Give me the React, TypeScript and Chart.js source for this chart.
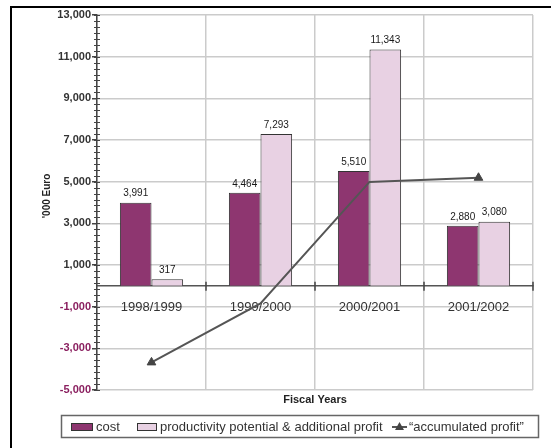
import React, { useEffect, useRef } from "react";
import { Chart, registerables } from "chart.js";

Chart.register(...registerables);

// Fiscal years on the category axis
const categories = ["1998/1999", "1999/2000", "2000/2001", "2001/2002"];
// '000 Euro
const costValues = [3991, 4464, 5510, 2880];
const productivityValues = [317, 7293, 11343, 3080];
const accumulatedProfit = [-3674, -845, 4988, 5188];

const Y_MIN = -5000;
const Y_MAX = 13000;
const Y_STEP = 2000;
const MINOR_TICKS_PER_STEP = 7;

const legendLabels = ["cost", "productivity potential & additional profit", "\u201caccumulated profit\u201d"];
const xTitle = "Fiscal Years";
const yTitle = "'000 Euro";

const COST_COLOR = "#8e3670";
const PROD_COLOR = "#e8d1e3";
const BAR_BORDER = "#333333";
const LINE_COLOR = "#555555";
const GRID_COLOR = "#cbcbcb";
const AXIS_COLOR = "#444444";
const NEG_COLOR = "#8a1f5f";
const TEXT_COLOR = "#333333";
const FONT = "'Liberation Sans', Arial, Helvetica, sans-serif";

const fmt = (v: number) => v.toLocaleString("en-US");

const decorations = {
  id: "decorations",
  afterDatasetsDraw(chart: any) {
    const ctx = chart.ctx as CanvasRenderingContext2D;
    const area = chart.chartArea;
    const yScale = chart.scales.y;
    const zeroY = yScale.getPixelForValue(0);

    ctx.save();
    // value labels above bars
    ctx.fillStyle = "#1a1a1a";
    ctx.font = `10px ${FONT}`;
    ctx.textAlign = "center";
    ctx.textBaseline = "middle";
    [1, 2].forEach((dsIndex) => {
      const meta = chart.getDatasetMeta(dsIndex);
      const values = chart.data.datasets[dsIndex].data as number[];
      meta.data.forEach((el: any, i: number) => {
        ctx.fillText(fmt(values[i]), el.x, el.y - 9);
      });
    });

    // minor ticks across the value axis
    ctx.strokeStyle = AXIS_COLOR;
    ctx.lineWidth = 1;
    const minorStep = Y_STEP / MINOR_TICKS_PER_STEP;
    for (let k = 0; k <= (Y_MAX - Y_MIN) / minorStep + 0.001; k++) {
      const y = Math.round(yScale.getPixelForValue(Y_MIN + k * minorStep)) + 0.5;
      ctx.beginPath();
      ctx.moveTo(area.left - 3, y);
      ctx.lineTo(area.left + 3, y);
      ctx.stroke();
    }

    // category boundary ticks on the zero line
    ctx.lineWidth = 1.5;
    const n = categories.length;
    for (let i = 1; i <= n; i++) {
      const x = area.left + (i * (area.right - area.left)) / n;
      ctx.beginPath();
      ctx.moveTo(x, zeroY - 4);
      ctx.lineTo(x, zeroY + 5);
      ctx.stroke();
    }
    ctx.restore();
  },
  afterDraw(chart: any) {
    const ctx = chart.ctx as CanvasRenderingContext2D;
    const area = chart.chartArea;
    ctx.save();

    // axis titles
    ctx.fillStyle = "#222";
    ctx.font = `bold 11px ${FONT}`;
    ctx.textAlign = "center";
    ctx.textBaseline = "middle";
    ctx.fillText(xTitle, (area.left + area.right) / 2, 400);

    ctx.save();
    ctx.translate(47.5, 196);
    ctx.rotate(-Math.PI / 2);
    ctx.font = `bold 10px ${FONT}`;
    ctx.fillText(yTitle, 0, 0);
    ctx.restore();

    // legend
    const ly = 427;
    ctx.strokeStyle = "#666";
    ctx.lineWidth = 1.5;
    ctx.strokeRect(61.5, 415.5, 477, 22);

    ctx.lineWidth = 1;
    ctx.fillStyle = COST_COLOR;
    ctx.fillRect(71, 423, 22, 8);
    ctx.strokeStyle = BAR_BORDER;
    ctx.strokeRect(71.5, 423.5, 21, 7);

    ctx.fillStyle = PROD_COLOR;
    ctx.fillRect(137, 423, 20, 8);
    ctx.strokeRect(137.5, 423.5, 19, 7);

    ctx.strokeStyle = LINE_COLOR;
    ctx.lineWidth = 2;
    ctx.beginPath();
    ctx.moveTo(392, ly);
    ctx.lineTo(407, ly);
    ctx.stroke();
    ctx.fillStyle = "#444";
    ctx.beginPath();
    ctx.moveTo(399.5, ly - 5);
    ctx.lineTo(404, ly + 3);
    ctx.lineTo(395, ly + 3);
    ctx.closePath();
    ctx.fill();

    ctx.fillStyle = TEXT_COLOR;
    ctx.font = `13px ${FONT}`;
    ctx.textAlign = "left";
    ctx.fillText(legendLabels[0], 96, ly);
    ctx.fillText(legendLabels[1], 160, ly);
    ctx.fillText(legendLabels[2], 409, ly);

    ctx.restore();
  },
};

export default function App() {
  const canvasRef = useRef<HTMLCanvasElement | null>(null);

  useEffect(() => {
    if (!canvasRef.current) return;
    const chart = new Chart(canvasRef.current, {
      type: "bar",
      data: {
        labels: categories,
        datasets: [
          {
            type: "line",
            label: legendLabels[2],
            data: accumulatedProfit,
            borderColor: LINE_COLOR,
            borderWidth: 2,
            tension: 0,
            pointStyle: "triangle",
            pointRadius: [5, 0, 0, 5],
            pointBackgroundColor: "#444",
            pointBorderColor: "#444",
            pointBorderWidth: 1,
            order: 0,
          } as any,
          {
            label: legendLabels[0],
            data: costValues,
            backgroundColor: COST_COLOR,
            borderColor: BAR_BORDER,
            borderWidth: 1,
            order: 1,
          },
          {
            label: legendLabels[1],
            data: productivityValues,
            backgroundColor: PROD_COLOR,
            borderColor: BAR_BORDER,
            borderWidth: 1,
            order: 2,
          },
        ],
      },
      options: {
        responsive: false,
        animation: false,
        layout: { padding: { left: 0, right: 18, top: 15, bottom: 58 } },
        datasets: { bar: { barPercentage: 1, categoryPercentage: 0.58 } },
        plugins: {
          legend: { display: false },
          tooltip: { enabled: false },
        },
        scales: {
          x: {
            type: "category",
            position: { y: 0 } as any,
            offset: true,
            grid: { offset: true, color: GRID_COLOR, lineWidth: 1.5, drawTicks: false },
            border: { display: true, color: "#555", width: 1.5 },
            ticks: {
              padding: 14,
              color: TEXT_COLOR,
              font: { family: FONT, size: 13 },
            },
          },
          y: {
            min: Y_MIN,
            max: Y_MAX,
            ticks: {
              stepSize: Y_STEP,
              padding: 1,
              color: (c: any) => (c.tick && c.tick.value < 0 ? NEG_COLOR : TEXT_COLOR),
              font: { family: FONT, size: 11, weight: "bold" },
              callback: (v: any) => fmt(Number(v)),
            },
            grid: { color: GRID_COLOR, lineWidth: 1.5, tickLength: 5, tickColor: AXIS_COLOR },
            border: { color: AXIS_COLOR, width: 1.5 },
            afterFit: (s: any) => {
              s.width = 97;
            },
          },
        },
      },
      plugins: [decorations],
    });
    return () => chart.destroy();
  }, []);

  return (
    <div
      style={{
        position: "fixed",
        left: 0,
        top: 0,
        width: 551,
        height: 448,
        overflow: "hidden",
        background: "#fff",
      }}
    >
      <canvas ref={canvasRef} width={551} height={448} style={{ position: "absolute", left: 0, top: 0 }} />
      <div
        style={{
          position: "absolute",
          left: 10,
          top: 6,
          width: 700,
          height: 700,
          borderLeft: "2px solid #000",
          borderTop: "2px solid #000",
          pointerEvents: "none",
        }}
      />
    </div>
  );
}
